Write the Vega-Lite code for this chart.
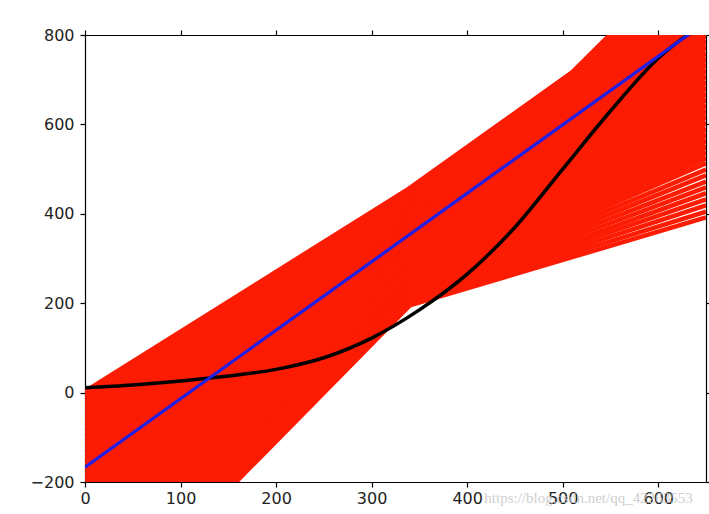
{
  "$schema": "https://vega.github.io/schema/vega-lite/v6.json",
  "width": 621,
  "height": 447,
  "autosize": {"type": "none"},
  "padding": {"left": 85, "top": 35, "right": 3, "bottom": 32},
  "background": "white",
  "config": {
    "view": {"stroke": null},
    "axis": {
      "domainColor": "#000000",
      "domainWidth": 1.2,
      "tickColor": "#000000",
      "tickSize": 5,
      "tickWidth": 1.2,
      "grid": false,
      "title": null,
      "labelFlush": false,
      "labelOverlap": false,
      "labelFont": "DejaVu Sans",
      "labelFontSize": 16,
      "labelColor": "#222222"
    }
  },
  "datasets": {
    "red": [
      {"id":0,"x":0,"y":-543},{"id":0,"x":340,"y":195},{"id":0,"x":510,"y":303},{"id":0,"x":650,"y":392},
      {"id":1,"x":0,"y":-531},{"id":1,"x":340,"y":200},{"id":1,"x":510,"y":312},{"id":1,"x":650,"y":405},
      {"id":2,"x":0,"y":-520},{"id":2,"x":340,"y":206},{"id":2,"x":510,"y":321},{"id":2,"x":650,"y":419},
      {"id":3,"x":0,"y":-508},{"id":3,"x":340,"y":212},{"id":3,"x":510,"y":330},{"id":3,"x":650,"y":432},
      {"id":4,"x":0,"y":-497},{"id":4,"x":340,"y":217},{"id":4,"x":510,"y":338},{"id":4,"x":650,"y":446},
      {"id":5,"x":0,"y":-485},{"id":5,"x":340,"y":223},{"id":5,"x":510,"y":347},{"id":5,"x":650,"y":459},
      {"id":6,"x":0,"y":-474},{"id":6,"x":340,"y":228},{"id":6,"x":510,"y":356},{"id":6,"x":650,"y":472},
      {"id":7,"x":0,"y":-462},{"id":7,"x":340,"y":234},{"id":7,"x":510,"y":365},{"id":7,"x":650,"y":486},
      {"id":8,"x":0,"y":-451},{"id":8,"x":340,"y":239},{"id":8,"x":510,"y":374},{"id":8,"x":650,"y":499},
      {"id":9,"x":0,"y":-439},{"id":9,"x":340,"y":245},{"id":9,"x":510,"y":383},{"id":9,"x":650,"y":513},
      {"id":10,"x":0,"y":-428},{"id":10,"x":340,"y":250},{"id":10,"x":510,"y":392},{"id":10,"x":650,"y":526},
      {"id":11,"x":0,"y":-416},{"id":11,"x":340,"y":256},{"id":11,"x":510,"y":401},{"id":11,"x":650,"y":539},
      {"id":12,"x":0,"y":-404},{"id":12,"x":340,"y":261},{"id":12,"x":510,"y":409},{"id":12,"x":650,"y":552},
      {"id":13,"x":0,"y":-393},{"id":13,"x":340,"y":267},{"id":13,"x":510,"y":418},{"id":13,"x":650,"y":565},
      {"id":14,"x":0,"y":-381},{"id":14,"x":340,"y":272},{"id":14,"x":510,"y":427},{"id":14,"x":650,"y":578},
      {"id":15,"x":0,"y":-370},{"id":15,"x":340,"y":278},{"id":15,"x":510,"y":435},{"id":15,"x":650,"y":591},
      {"id":16,"x":0,"y":-358},{"id":16,"x":340,"y":284},{"id":16,"x":510,"y":444},{"id":16,"x":650,"y":605},
      {"id":17,"x":0,"y":-347},{"id":17,"x":340,"y":289},{"id":17,"x":510,"y":453},{"id":17,"x":650,"y":618},
      {"id":18,"x":0,"y":-335},{"id":18,"x":340,"y":295},{"id":18,"x":510,"y":462},{"id":18,"x":650,"y":631},
      {"id":19,"x":0,"y":-323},{"id":19,"x":340,"y":300},{"id":19,"x":510,"y":470},{"id":19,"x":650,"y":644},
      {"id":20,"x":0,"y":-312},{"id":20,"x":340,"y":306},{"id":20,"x":510,"y":479},{"id":20,"x":650,"y":657},
      {"id":21,"x":0,"y":-300},{"id":21,"x":340,"y":311},{"id":21,"x":510,"y":488},{"id":21,"x":650,"y":670},
      {"id":22,"x":0,"y":-289},{"id":22,"x":340,"y":317},{"id":22,"x":510,"y":496},{"id":22,"x":650,"y":683},
      {"id":23,"x":0,"y":-277},{"id":23,"x":340,"y":322},{"id":23,"x":510,"y":505},{"id":23,"x":650,"y":696},
      {"id":24,"x":0,"y":-266},{"id":24,"x":340,"y":328},{"id":24,"x":510,"y":514},{"id":24,"x":650,"y":709},
      {"id":25,"x":0,"y":-254},{"id":25,"x":340,"y":333},{"id":25,"x":510,"y":522},{"id":25,"x":650,"y":722},
      {"id":26,"x":0,"y":-243},{"id":26,"x":340,"y":339},{"id":26,"x":510,"y":531},{"id":26,"x":650,"y":735},
      {"id":27,"x":0,"y":-231},{"id":27,"x":340,"y":344},{"id":27,"x":510,"y":540},{"id":27,"x":650,"y":748},
      {"id":28,"x":0,"y":-220},{"id":28,"x":340,"y":350},{"id":28,"x":510,"y":549},{"id":28,"x":650,"y":761},
      {"id":29,"x":0,"y":-208},{"id":29,"x":340,"y":355},{"id":29,"x":510,"y":557},{"id":29,"x":650,"y":775},
      {"id":30,"x":0,"y":-197},{"id":30,"x":340,"y":361},{"id":30,"x":510,"y":566},{"id":30,"x":650,"y":788},
      {"id":31,"x":0,"y":-185},{"id":31,"x":340,"y":367},{"id":31,"x":510,"y":575},{"id":31,"x":650,"y":801},
      {"id":32,"x":0,"y":-173},{"id":32,"x":340,"y":372},{"id":32,"x":510,"y":583},{"id":32,"x":650,"y":814},
      {"id":33,"x":0,"y":-162},{"id":33,"x":340,"y":378},{"id":33,"x":510,"y":592},{"id":33,"x":650,"y":827},
      {"id":34,"x":0,"y":-150},{"id":34,"x":340,"y":383},{"id":34,"x":510,"y":601},{"id":34,"x":650,"y":840},
      {"id":35,"x":0,"y":-139},{"id":35,"x":340,"y":389},{"id":35,"x":510,"y":610},{"id":35,"x":650,"y":853},
      {"id":36,"x":0,"y":-127},{"id":36,"x":340,"y":394},{"id":36,"x":510,"y":618},{"id":36,"x":650,"y":866},
      {"id":37,"x":0,"y":-115},{"id":37,"x":340,"y":400},{"id":37,"x":510,"y":627},{"id":37,"x":650,"y":879},
      {"id":38,"x":0,"y":-104},{"id":38,"x":340,"y":405},{"id":38,"x":510,"y":636},{"id":38,"x":650,"y":892},
      {"id":39,"x":0,"y":-92},{"id":39,"x":340,"y":411},{"id":39,"x":510,"y":644},{"id":39,"x":650,"y":905},
      {"id":40,"x":0,"y":-81},{"id":40,"x":340,"y":416},{"id":40,"x":510,"y":653},{"id":40,"x":650,"y":918},
      {"id":41,"x":0,"y":-69},{"id":41,"x":340,"y":422},{"id":41,"x":510,"y":662},{"id":41,"x":650,"y":932},
      {"id":42,"x":0,"y":-58},{"id":42,"x":340,"y":427},{"id":42,"x":510,"y":671},{"id":42,"x":650,"y":945},
      {"id":43,"x":0,"y":-46},{"id":43,"x":340,"y":433},{"id":43,"x":510,"y":679},{"id":43,"x":650,"y":958},
      {"id":44,"x":0,"y":-35},{"id":44,"x":340,"y":438},{"id":44,"x":510,"y":688},{"id":44,"x":650,"y":971},
      {"id":45,"x":0,"y":-23},{"id":45,"x":340,"y":444},{"id":45,"x":510,"y":697},{"id":45,"x":650,"y":984},
      {"id":46,"x":0,"y":-12},{"id":46,"x":340,"y":450},{"id":46,"x":510,"y":705},{"id":46,"x":650,"y":997},
      {"id":47,"x":0,"y":0},{"id":47,"x":340,"y":455},{"id":47,"x":510,"y":714},{"id":47,"x":650,"y":1010}
    ],
    "black": [
      {"x":0,"y":11},{"x":50,"y":17},{"x":100,"y":26},{"x":150,"y":37},{"x":200,"y":52},
      {"x":250,"y":78},{"x":300,"y":122},{"x":350,"y":185},{"x":400,"y":265},{"x":450,"y":370},
      {"x":500,"y":500},{"x":550,"y":630},{"x":600,"y":748},{"x":650,"y":829}
    ],
    "blue": [
      {"x":0,"y":-167},{"x":650,"y":829}
    ],
    "wm": [
      {"x":527,"y":-235,"label":"https://blog.csdn.net/qq_42263553"}
    ]
  },
  "layer": [
    {
      "data": {"name": "red"},
      "transform": [{"filter": "datum.id < 10"}],
      "mark": {"type": "line", "clip": true, "strokeWidth": 4.5, "color": "#fc1c03"},
      "encoding": {
        "x": {"field": "x", "type": "quantitative", "scale": {"domain": [0, 650], "nice": false, "zero": false},
              "axis": {"orient": "bottom", "values": [0,100,200,300,400,500,600], "labelPadding": 3}},
        "y": {"field": "y", "type": "quantitative", "scale": {"domain": [-200, 800], "nice": false, "zero": false},
              "axis": {"orient": "left", "values": [-200,0,200,400,600,800], "labelPadding": 6}},
        "detail": {"field": "id", "type": "nominal"}
      }
    },
    {
      "data": {"name": "red"},
      "transform": [{"filter": "datum.id >= 10"}],
      "mark": {"type": "line", "clip": true, "strokeWidth": 6.5, "color": "#fc1c03"},
      "encoding": {
        "x": {"field": "x", "type": "quantitative", "axis": null},
        "y": {"field": "y", "type": "quantitative", "axis": null},
        "detail": {"field": "id", "type": "nominal"}
      }
    },
    {
      "data": {"name": "black"},
      "mark": {"type": "line", "clip": true, "strokeWidth": 3.5, "color": "#000000", "interpolate": "monotone"},
      "encoding": {
        "x": {"field": "x", "type": "quantitative",
              "axis": {"orient": "top", "values": [0,100,200,300,400,500,600], "labels": false}},
        "y": {"field": "y", "type": "quantitative",
              "axis": {"orient": "right", "values": [-200,0,200,400,600,800], "labels": false}}
      }
    },
    {
      "data": {"name": "blue"},
      "mark": {"type": "line", "clip": true, "strokeWidth": 3.2, "color": "#1f1fe6"},
      "encoding": {
        "x": {"field": "x", "type": "quantitative", "axis": null},
        "y": {"field": "y", "type": "quantitative", "axis": null}
      }
    },
    {
      "data": {"name": "wm"},
      "mark": {"type": "text", "clip": false, "font": "Liberation Sans Narrow", "fontSize": 15, "color": "#c8c8c8", "opacity": 0.85, "align": "center", "baseline": "middle"},
      "encoding": {
        "x": {"field": "x", "type": "quantitative", "axis": null},
        "y": {"field": "y", "type": "quantitative", "axis": null},
        "text": {"field": "label"}
      }
    }
  ],
  "resolve": {"axis": {"x": "independent", "y": "independent"}}
}
